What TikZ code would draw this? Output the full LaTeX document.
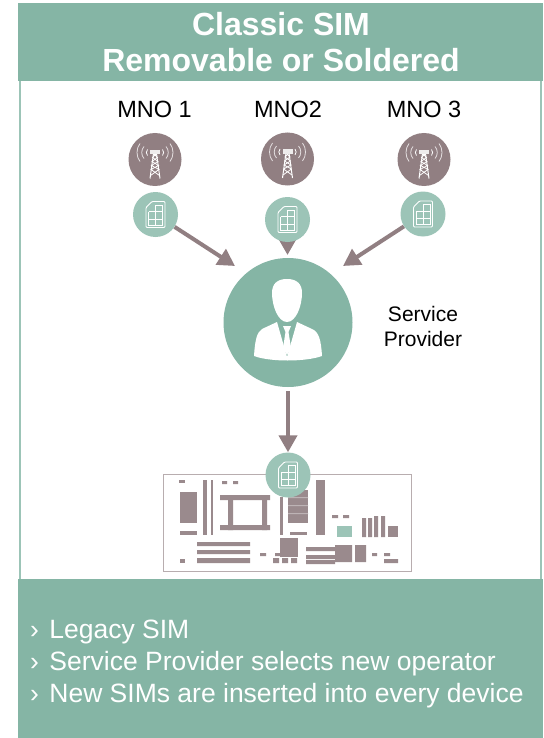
\documentclass[tikz,border=0pt]{standalone}
\usepackage{fontspec}
\setmainfont{Liberation Sans}
\usetikzlibrary{arrows.meta}
\definecolor{teal}{HTML}{85B5A5}
\definecolor{sim}{HTML}{9CC4B7}
\definecolor{mauve}{HTML}{917F82}
\definecolor{chip}{HTML}{9A8A8D}
\pgfdeclarelayer{base}
\pgfdeclarelayer{arrows}
\pgfsetlayers{base,arrows,main}
\tikzset{
  banner/.style={fill=teal,draw=none},
  labeltext/.style={font=\fontsize{23.5}{28}\selectfont,text=black,inner sep=0pt},
  smalllabel/.style={font=\fontsize{21}{25}\selectfont,text=black,align=center,inner sep=0pt},
  arrowline/.style={draw=mauve,line width=4pt,-{Triangle[length=17pt,width=18pt]}},
  towerdisc/.style={circle,fill=mauve,minimum size=53pt,inner sep=0pt},
  simdisc/.style={circle,fill=sim,draw=none,minimum size=45pt,inner sep=0pt},
  persondisc/.style={circle,fill=teal,minimum size=129pt,inner sep=0pt},
  wline/.style={draw=white,line width=0.8pt},
  faint/.style={draw=white!75!mauve,line width=0.8pt},
  chipfill/.style={fill=chip,draw=none},
  pics/towericon/.style={code={
    \draw[wline,line width=1pt] (-5,19) -- (-1.5,-6) -- (1.5,-6) -- (5,19);
    \draw[wline] (-4.5,16) -- (4,10) -- (-3.5,6) -- (3,2) -- (-2.5,-2) -- (1.5,-6);
    \draw[wline] (4.5,16) -- (-4,10) -- (3.5,6) -- (-3,2) -- (2.5,-2) -- (-1.5,-6);
    \fill[white!85!mauve] (-5,-9.5) rectangle (5,-5);
    \draw[faint] (-15,-16) .. controls (-19,-11) and (-19,-3) .. (-15,2);
    \draw[faint] (15,-16) .. controls (19,-11) and (19,-3) .. (15,2);
    \draw[faint] (-11,-13) .. controls (-14,-10) and (-14,-4) .. (-11,-1);
    \draw[faint] (11,-13) .. controls (14,-10) and (14,-4) .. (11,-1);
    \draw[wline] (-7.5,-10) .. controls (-9,-8) and (-9,-6) .. (-7.5,-4);
    \draw[wline] (7.5,-10) .. controls (9,-8) and (9,-6) .. (7.5,-4);
  }},
  pics/simicon/.style={code={
    \draw[wline,line width=0.9pt,rounded corners=1pt] (-9.5,-7) -- (-3.5,-13) -- (9.5,-13) -- (9.5,13) -- (-9.5,13) -- cycle;
    \draw[wline] (-7,-3) -- (-7,10.5) -- (7,10.5) -- (7,-9.5) -- (0,-9.5) -- (0,10.5);
    \draw[wline] (-7,-3) -- (0,-3) (-7,4.5) -- (7,4.5) (0,-3) -- (7,-3);
  }}
}
\begin{document}
\begin{tikzpicture}[x=1pt,y=-1pt]
\useasboundingbox (0,0) rectangle (543,738);
\begin{pgfonlayer}{base}
\fill[white] (0,0) rectangle (543,738);
\fill[banner] (18,3) rectangle (542.5,81);
\fill[banner] (18,579) rectangle (542.5,738);
\draw[draw=sim,line width=2pt] (19.5,81) -- (19.5,579);
\draw[draw=sim,line width=2pt] (541,81) -- (541,579);
% board
\draw[draw=chip!70!white,line width=0.8pt,fill=white] (163.5,474.5) rectangle (411.5,571.5);
\fill[chipfill] (179,480) rectangle (185,483);
\fill[chipfill] (180,492) rectangle (197,523);
\fill[chipfill] (180,531) rectangle (197,535);
\fill[chipfill] (203,480) rectangle (207,535);
\fill[chipfill] (211,480) rectangle (213,535);
\fill[chipfill] (222,481) rectangle (227,484) (233,481) rectangle (238,484);
\fill[chipfill] (220,495) rectangle (270,500) (220,525) rectangle (270,530);
\fill[chipfill] (228,495) rectangle (233,530) (262,495) rectangle (267,530);
\fill[chipfill] (280,497) rectangle (283,535);
\fill[chipfill] (288,490) rectangle (308,523);
\fill[white!35!chip] (288,497) rectangle (308,498) (288,505) rectangle (308,506) (288,513) rectangle (308,514);
\fill[chipfill] (290,532) rectangle (307,535);
\fill[chipfill] (316,480) rectangle (325,535);
\fill[chipfill] (197,542) rectangle (250,546) (197,550) rectangle (250,554) (197,558) rectangle (250,563);
\fill[chipfill] (180,559) rectangle (185,563);
\fill[chipfill] (260,553) rectangle (266,556) (275,553) rectangle (280,556);
\fill[chipfill] (280,538) rectangle (298,557);
\fill[chipfill] (273,558) rectangle (279,563) (282,558) rectangle (288,563) (291,558) rectangle (297,563);
\fill[chipfill] (306,547) rectangle (335,551) (306,555) rectangle (335,559) (306,560) rectangle (335,564);
\fill[chipfill] (335,545) rectangle (352,562) (355,545) rectangle (366,562);
\fill[chipfill] (372,553) rectangle (377,556) (384,553) rectangle (390,556) (384,559) rectangle (398,563);
\fill[chipfill] (332,515) rectangle (338,518) (343,515) rectangle (349,518);
\fill[sim] (337,526) rectangle (352,537);
\fill[chipfill] (362,518) rectangle (366,537) (368,518) rectangle (372,537);
\fill[chipfill] (374,516) rectangle (378,537) (381,516) rectangle (385,537);
\fill[chipfill] (388,526) rectangle (398,537);
\end{pgfonlayer}
% title
\node[font=\bfseries\fontsize{32}{36}\selectfont,text=white,align=center,inner sep=0pt] (title) at (281,42) {Classic SIM\\Removable or Soldered};
% MNO labels
\node[labeltext] (l1) at (154.5,109) {MNO 1};
\node[labeltext] (l2) at (288,109) {MNO2};
\node[labeltext] (l3) at (424,109) {MNO 3};
% towers
\node[towerdisc] (t1) at (155,159.5) {};
\node[towerdisc] (t2) at (287.5,159) {};
\node[towerdisc] (t3) at (424,159.5) {};
\pic at (t1) {towericon};
\pic at (t2) {towericon};
\pic at (t3) {towericon};
% provider
\node[persondisc] (sp) at (288,322.5) {};
% sims
\node[simdisc] (s1) at (155.5,214.5) {};
\node[simdisc] (s2) at (287.5,219.5) {};
\node[simdisc] (s3) at (423,214) {};
\node[simdisc] (s4) at (288,475) {};
\pic at (s1) {simicon};
\pic at (s2) {simicon};
\pic at (s3) {simicon};
\pic at (s4) {simicon};
% arrows
\coordinate (e1) at (235,266);
\coordinate (e2) at (287.5,255);
\coordinate (e3) at (343,266);
\begin{pgfonlayer}{arrows}
\draw[arrowline] (s1) -- (e1);
\draw[arrowline] (s2) -- (e2);
\draw[arrowline] (s3) -- (e3);
\draw[arrowline,shorten <=4pt] (sp.south) -- (s4.north);
\end{pgfonlayer}
% person
\fill[white] (287,279) .. controls (277,279) and (272,284) .. (272,293)
  .. controls (272,306) and (278,322) .. (287,322)
  .. controls (296,322) and (302,306) .. (302,293)
  .. controls (302,284) and (297,279) .. (287,279) -- cycle;
\fill[white] (277,322) -- (262,329) .. controls (257,332) and (255,340) .. (254,356)
  .. controls (270,362) and (305,362) .. (322,356)
  .. controls (321,340) and (319,332) .. (312,329) -- (297,322) -- (287,357) -- cycle;
\fill[white] (283,326) -- (291,326) -- (288.5,332) -- (291,348) -- (287,355) -- (283,348) -- (285.5,332) -- cycle;
\node[smalllabel] (splabel) at (423,326.5) {Service\\Provider};
% bullets
\node[font=\fontsize{26.5}{32}\selectfont,text=white,align=left,inner sep=0pt,anchor=west] (bullets) at (30,664) {›\kern3pt{} Legacy SIM\\›\kern3pt{} Service Provider selects new operator\\›\kern3pt{} New SIMs are inserted into every device};
\end{tikzpicture}
\end{document}
